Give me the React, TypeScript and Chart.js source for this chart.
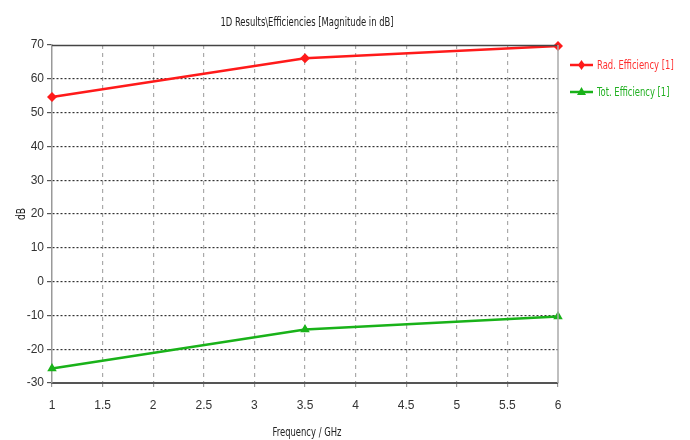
import React, { useEffect, useRef } from "react";
import { Chart, registerables } from "chart.js";

Chart.register(...registerables);

const frequencies = [1, 3.5, 6];
const radEfficiency = [54.6, 66.1, 69.7];
const totEfficiency = [-25.7, -14.2, -10.3];
const xTicks = [1, 1.5, 2, 2.5, 3, 3.5, 4, 4.5, 5, 5.5, 6];
const yTicks = [-30, -20, -10, 0, 10, 20, 30, 40, 50, 60, 70];
const titleText = "1D Results\\Efficiencies [Magnitude in dB]";
const xTitle = "Frequency / GHz";
const yTitle = "dB";
const legendLabels = ["Rad. Efficiency [1]", "Tot. Efficiency [1]"];

const FONT = '"DejaVu Sans Condensed", "Liberation Sans", sans-serif';
const TICKFONT = '"Liberation Sans", sans-serif';
const RED = "#ff1a1a";
const GREEN = "#19b219";

function narrowText(ctx: any, text: string, x: number, y: number, sx: number, align: string, color: string) {
  ctx.save();
  ctx.fillStyle = color;
  ctx.textAlign = align;
  ctx.textBaseline = "middle";
  ctx.translate(x, y);
  ctx.scale(sx, 1);
  ctx.fillText(text, 0, 0);
  ctx.restore();
}

const decorPlugin = {
  id: "decor",
  afterDraw(chart: any) {
    const { ctx, chartArea } = chart;
    const { left, right, top, bottom } = chartArea;
    ctx.save();
    ctx.setLineDash([]);
    // top border
    ctx.strokeStyle = "#444";
    ctx.lineWidth = 1.5;
    ctx.beginPath();
    ctx.moveTo(left, top + 0.5);
    ctx.lineTo(right, top + 0.5);
    ctx.stroke();
    // right border
    ctx.strokeStyle = "#aaa";
    ctx.lineWidth = 1.5;
    ctx.beginPath();
    ctx.moveTo(right, top);
    ctx.lineTo(right, bottom);
    ctx.stroke();
    ctx.font = "12px " + FONT;
    narrowText(ctx, titleText, (left + right) / 2 + 2, 23, 0.78, "center", "#222");
    narrowText(ctx, xTitle, (left + right) / 2 + 2, 433, 0.78, "center", "#222");
    ctx.save();
    ctx.translate(22, (top + bottom) / 2);
    ctx.rotate(-Math.PI / 2);
    narrowText(ctx, yTitle, 0, 0, 0.85, "center", "#222");
    ctx.restore();
    // legend
    const items = [
      { label: legendLabels[0], color: RED, tcolor: "#ff3030", y: 65, marker: "diamond" },
      { label: legendLabels[1], color: GREEN, tcolor: "#22b022", y: 92, marker: "triangle" },
    ];
    items.forEach((it) => {
      ctx.strokeStyle = it.color;
      ctx.fillStyle = it.color;
      ctx.lineWidth = 2.5;
      ctx.beginPath();
      ctx.moveTo(570, it.y);
      ctx.lineTo(593, it.y);
      ctx.stroke();
      const cx = 581.5;
      ctx.beginPath();
      if (it.marker === "diamond") {
        ctx.moveTo(cx, it.y - 5);
        ctx.lineTo(cx + 3.5, it.y);
        ctx.lineTo(cx, it.y + 5);
        ctx.lineTo(cx - 3.5, it.y);
      } else {
        ctx.moveTo(cx, it.y - 5);
        ctx.lineTo(cx + 4.5, it.y + 3);
        ctx.lineTo(cx - 4.5, it.y + 3);
      }
      ctx.closePath();
      ctx.fill();
      ctx.font = "12px " + FONT;
      narrowText(ctx, it.label, 597, it.y + 1, 0.78, "left", it.tcolor);
    });
    ctx.restore();
  },
};

export default function App() {
  const ref = useRef<HTMLCanvasElement>(null);
  useEffect(() => {
    document.body.style.margin = "0";
    const canvas = ref.current!;
    const chart = new Chart(canvas, {
      type: "line",
      data: {
        datasets: [
          {
            label: legendLabels[0],
            data: frequencies.map((f, i) => ({ x: f, y: radEfficiency[i] })),
            borderColor: RED,
            backgroundColor: RED,
            borderWidth: 2.5,
            pointStyle: "rectRot",
            pointRadius: 5,
            pointBorderWidth: 0,
            tension: 0,
          },
          {
            label: legendLabels[1],
            data: frequencies.map((f, i) => ({ x: f, y: totEfficiency[i] })),
            borderColor: GREEN,
            backgroundColor: GREEN,
            borderWidth: 2.5,
            pointStyle: "triangle",
            pointRadius: 5.5,
            pointBorderWidth: 0,
            tension: 0,
          },
        ],
      },
      options: {
        animation: false,
        responsive: false,
        maintainAspectRatio: false,
        clip: false as any,
        layout: { padding: { left: 0, right: 132, top: 45, bottom: 0 } },
        plugins: { legend: { display: false }, title: { display: false }, tooltip: { enabled: false } },
        scales: {
          x: {
            type: "linear",
            min: 1,
            max: 6,
            afterFit: (s: any) => { s.height = 57; },
            afterBuildTicks: (s: any) => { s.ticks = xTicks.map((v) => ({ value: v })); },
            ticks: {
              color: "#333",
              font: { family: TICKFONT, size: 12 },
              padding: 10,
              maxRotation: 0,
              autoSkip: false,
              callback: (v: any) => String(v),
            },
            grid: {
              color: (c: any) => (c.tick && (c.tick.value === 1 || c.tick.value === 6) ? "rgba(0,0,0,0)" : "#aaa"),
              lineWidth: 1.2,
              tickLength: 5,
              tickColor: "#999",
              tickBorderDash: [3, 3],
              drawOnChartArea: true,
            } as any,
            border: { display: true, color: "#555", width: 2, dash: [4, 4] },
          },
          y: {
            type: "linear",
            min: -30,
            max: 70,
            afterFit: (s: any) => { s.width = 52; },
            afterBuildTicks: (s: any) => { s.ticks = yTicks.map((v) => ({ value: v })); },
            ticks: {
              color: "#333",
              font: { family: TICKFONT, size: 12 },
              padding: 3,
              autoSkip: false,
              callback: (v: any) => String(v),
            },
            grid: {
              color: (c: any) => (c.tick && (c.tick.value === 70 || c.tick.value === -30) ? "rgba(0,0,0,0)" : "#333"),
              lineWidth: 1.2,
              tickLength: 5,
              tickColor: "#555",
              tickBorderDash: [],
            } as any,
            border: { display: true, color: "#999", width: 1.5, dash: [2, 2] },
          },
        },
      } as any,
      plugins: [decorPlugin],
    });
    return () => chart.destroy();
  }, []);
  return (
    <div style={{ position: "fixed", left: 0, top: 0, width: 690, height: 440, background: "#fff" }}>
      <canvas ref={ref} width={690} height={440} style={{ width: 690, height: 440, display: "block" }} />
    </div>
  );
}
